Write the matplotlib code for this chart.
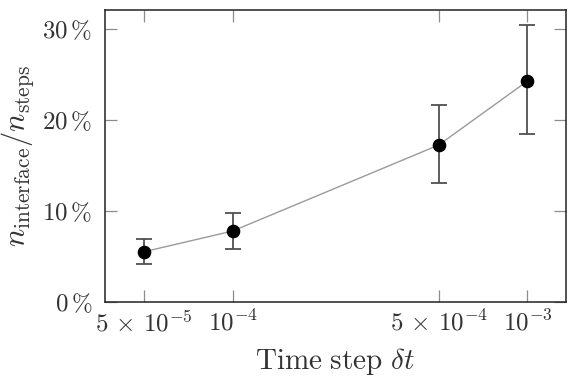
import matplotlib
matplotlib.use("Agg")
import matplotlib.pyplot as plt
import numpy as np

plt.rcParams['mathtext.fontset'] = 'cm'
plt.rcParams['font.family'] = 'serif'
plt.rcParams['font.serif'] = ['cmr10', 'DejaVu Serif']
plt.rcParams['axes.formatter.use_mathtext'] = True

dt = [5e-5, 1e-4, 5e-4, 1e-3]
ratio = [5.5, 7.78, 17.24, 24.28]
err_low = [4.11, 5.80, 13.09, 18.42]
err_high = [6.86, 9.72, 21.64, 30.47]
xtick_labels = [r'$5\,\times\,10^{-5}$', r'$10^{-4}$', r'$5\,\times\,10^{-4}$', r'$10^{-3}$']
yticks = [0, 10, 20, 30]
ytick_labels = [r'$0\,\%$', r'$10\,\%$', r'$20\,\%$', r'$30\,\%$']

fig = plt.figure(figsize=(5.69, 3.84), dpi=100)
ax = fig.add_axes([105/569, 1 - 301.7/384, (565.7-105)/569, (301.7-10)/384])

ratio_a = np.array(ratio)
yerr = [ratio_a - np.array(err_low), np.array(err_high) - ratio_a]
ax.plot(dt, ratio, color='#9a9a9a', lw=1.0, zorder=2)
ax.errorbar(dt, ratio, yerr=yerr, fmt='none', ecolor='#505050', elinewidth=1.3,
            capsize=6, capthick=1.3, zorder=3)
ax.plot(dt, ratio, 'o', color='black', markersize=8.8, zorder=4)

ax.set_xscale('log')
ax.set_xlim(10**-4.4335, 10**-2.870)
ax.set_ylim(0, 32.1)
ax.set_xticks(dt)
ax.set_xticklabels(xtick_labels)
ax.xaxis.set_minor_locator(matplotlib.ticker.NullLocator())
ax.set_yticks(yticks)
ax.set_yticklabels(ytick_labels)

ax.tick_params(which='both', direction='in', top=True, right=True, length=8.5,
               width=0.9, color='#8c8c8c', labelsize=18, labelcolor='#333333')
ax.tick_params(axis='y', pad=9)
ax.tick_params(axis='x', pad=6)
for s in ax.spines.values():
    s.set_linewidth(1.1)
    s.set_color('#222222')

ax.set_xlabel(r'$\mathrm{Time\ step}\ \delta t$', fontsize=21, color='#333333', labelpad=7)
ax.set_ylabel(r'$n_{\mathrm{interface}}/n_{\mathrm{steps}}$', fontsize=22, color='#333333', labelpad=5)

fig.savefig('out.png', dpi=100)
